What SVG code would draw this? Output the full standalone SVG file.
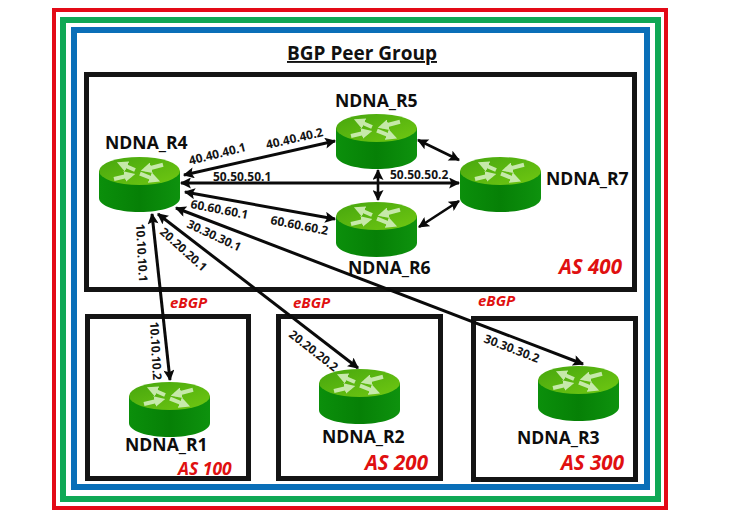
<svg xmlns="http://www.w3.org/2000/svg" width="756" height="520" viewBox="0 0 756 520">
<style>
.box{fill:none;stroke:#141414;stroke-width:5}
.fr{fill:none}
.lbl{font:700 17.6px "Open Sans","Liberation Sans",sans-serif;fill:#0d0d0d}
.ip{font:700 12px "Open Sans","Liberation Sans",sans-serif;fill:#141414}
.as{font:italic 700 20.5px "Open Sans","Liberation Sans",sans-serif;fill:#e01010}
.eb{font:italic 700 15px "Open Sans","Liberation Sans",sans-serif;fill:#e01010}
.c{fill:none;stroke:#0a0a0a;stroke-width:3;marker-start:url(#a);marker-end:url(#a)}
.c2{stroke-width:2.6}
.g{stroke:#c6e9aa;stroke-width:4;fill:none;marker-end:url(#b)}
</style>
<defs>
<marker id="a" viewBox="0 0 10 10" refX="9" refY="5" markerWidth="12" markerHeight="11" markerUnits="userSpaceOnUse" orient="auto-start-reverse"><path d="M0 0L10 5L0 10L2 5z" fill="#0a0a0a"/></marker>
<marker id="b" viewBox="0 0 10 10" refX="6" refY="5" markerWidth="11" markerHeight="11" markerUnits="userSpaceOnUse" orient="auto"><path d="M0 0L10 5L0 10z" fill="#c6e9aa"/></marker>
<linearGradient id="s" x1="0" x2="1" y1="0" y2="0"><stop offset="0" stop-color="#0b8f0b"/><stop offset=".5" stop-color="#068006"/><stop offset="1" stop-color="#0e920e"/></linearGradient>
<linearGradient id="t" x1="0" x2="1" y1="0" y2="1"><stop offset="0" stop-color="#46a60e"/><stop offset="1" stop-color="#70c812"/></linearGradient>
<g id="router">
<path d="M0 14V41C0 49 18 55 40.500 55S81 49 81 41V14z" fill="url(#s)"/>
<ellipse cx="40.500" cy="14" rx="40.500" ry="14" fill="url(#t)"/>
<path class="g" d="M36 13L22 7"/>
<path class="g" d="M64 7.700L46 12.500"/>
<path class="g" d="M15 22L32 18"/>
<path class="g" d="M41 16.700L57 23"/>
</g>
</defs>
<g id="frames" class="fr">
<rect x="54" y="10" width="612" height="498" stroke="#e30a17" stroke-width="4"/>
<rect x="63" y="20" width="595" height="479" stroke="#0fa855" stroke-width="6"/>
<rect x="74" y="30" width="573" height="457" stroke="#0a6fb8" stroke-width="6"/>
</g>
<g id="as400"><rect class="box" x="86.500" y="74.500" width="548" height="215"/><text class="as" x="559" y="274">AS 400</text></g>
<g id="as100"><rect class="box" x="87.500" y="316.500" width="161" height="162"/><text class="as" x="178" y="475" style="font-size:17.5px">AS 100</text></g>
<g id="as200"><rect class="box" x="278.500" y="316.500" width="162" height="162"/><text class="as" x="365" y="470">AS 200</text></g>
<g id="as300"><rect class="box" x="473.500" y="318.500" width="162" height="161"/><text class="as" x="561" y="470">AS 300</text></g>
<text x="362" y="60" text-anchor="middle" style="font:700 19px 'Open Sans','Liberation Sans',sans-serif;fill:#111;text-decoration:underline">BGP Peer Group</text>
<g id="connectors">
<path class="c" d="M184 175L335 141"/>
<path class="c" d="M181 183L459 183"/>
<path class="c" d="M185 192L335 219"/>
<path class="c" d="M152 214L170 380"/>
<path class="c" d="M158 214L358 368"/>
<path class="c" d="M176 208L583 364"/>
<path class="c c2" d="M418 140L459 160"/>
<path class="c c2" d="M378 170L378 200"/>
<path class="c c2" d="M419 227L459 201"/>
</g>
<g id="R4"><use href="#router" x="99" y="157"/><text class="lbl" x="105" y="149">NDNA_R4</text></g>
<g id="R5"><use href="#router" x="336" y="114"/><text class="lbl" x="335" y="107">NDNA_R5</text></g>
<g id="R6"><use href="#router" x="336" y="202"/><text class="lbl" x="348" y="274">NDNA_R6</text></g>
<g id="R7"><use href="#router" x="460" y="157"/><text class="lbl" x="546" y="185">NDNA_R7</text></g>
<g id="R1"><use href="#router" x="129" y="382"/><text class="lbl" x="125" y="451">NDNA_R1</text></g>
<g id="R2"><use href="#router" x="319" y="369"/><text class="lbl" x="322" y="443">NDNA_R2</text></g>
<g id="R3"><use href="#router" x="538" y="366"/><text class="lbl" x="517" y="444">NDNA_R3</text></g>
<g id="labels">
<text class="ip" transform="translate(190 165) rotate(-14)">40.40.40.1</text>
<text class="ip" transform="translate(267 149) rotate(-13)">40.40.40.2</text>
<text class="ip" x="213" y="181">50.50.50.1</text>
<text class="ip" x="390" y="179">50.50.50.2</text>
<text class="ip" transform="translate(190 208) rotate(11)">60.60.60.1</text>
<text class="ip" transform="translate(270 224) rotate(11)">60.60.60.2</text>
<text class="ip" transform="translate(186 227) rotate(25)">30.30.30.1</text>
<text class="ip" transform="translate(159 233) rotate(42)">20.20.20.1</text>
<text class="ip" transform="translate(136 224) rotate(87)">10.10.10.1</text>
<text class="ip" transform="translate(150 322) rotate(87)">10.10.10.2</text>
<text class="ip" transform="translate(288 336) rotate(38)">20.20.20.2</text>
<text class="ip" transform="translate(483 342) rotate(21)">30.30.30.2</text>
<text class="eb" x="170" y="308">eBGP</text>
<text class="eb" x="293" y="308">eBGP</text>
<text class="eb" x="478" y="306">eBGP</text>
</g>
</svg>
